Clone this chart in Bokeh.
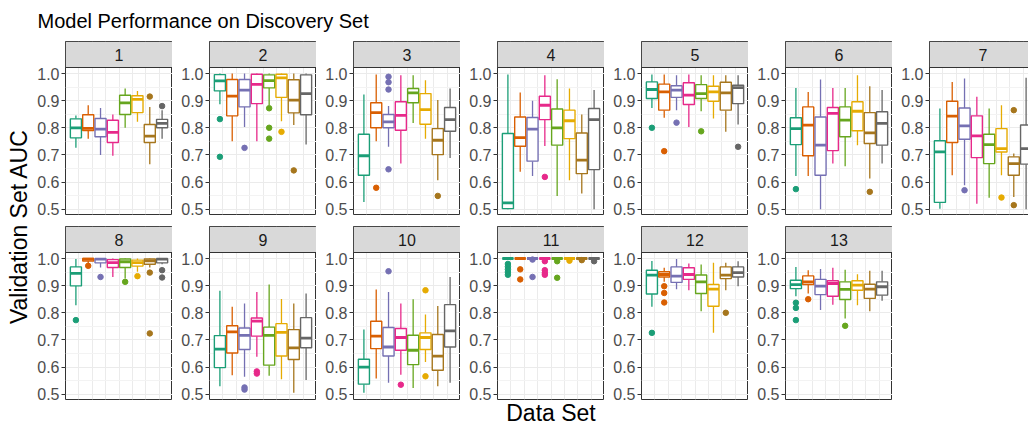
import math
from bokeh.plotting import figure
from bokeh.layouts import row, column
from bokeh.models import (ColumnDataSource, FixedTicker, PrintfTickFormatter,
                          BoxAnnotation, Label, Range1d)
from bokeh.embed import file_html
from bokeh.resources import INLINE

# ---------------- data ----------------
panel_names = [str(i) for i in range(1, 14)]
methods = ["1", "2", "3", "4", "5", "6", "7", "8"]
colors = ["#1B9E77", "#D95F02", "#7570B3", "#E7298A",
          "#66A61E", "#E6AB02", "#A6761D", "#666666"]

lower = [
    [0.726, 0.760, 0.700, 0.697, 0.800, 0.822, 0.666, 0.760],
    [0.887, 0.750, 0.803, 0.750, 0.883, 0.824, 0.810, 0.738],
    [0.527, 0.750, 0.730, 0.668, 0.818, 0.760, 0.607, 0.689],
    [0.500, 0.638, 0.622, 0.733, 0.549, 0.607, 0.558, 0.500],
    [0.873, 0.837, 0.865, 0.803, 0.861, 0.834, 0.785, 0.812],
    [0.622, 0.622, 0.500, 0.668, 0.658, 0.736, 0.613, 0.668],
    [0.502, 0.625, 0.588, 0.520, 0.542, 0.625, 0.545, 0.500],
    [0.828, 0.979, 0.967, 0.932, 0.926, 0.951, 0.967, 0.979],
    [0.529, 0.570, 0.564, 0.638, 0.568, 0.555, 0.505, 0.552],
    [0.505, 0.558, 0.542, 0.572, 0.523, 0.619, 0.529, 0.542],
    [1.000, 1.000, 1.000, 1.000, 1.000, 1.000, 1.000, 1.000],
    [0.822, 0.914, 0.887, 0.883, 0.806, 0.726, 0.883, 0.898],
    [0.861, 0.871, 0.810, 0.830, 0.779, 0.828, 0.806, 0.844],
]
q1 = [
    [0.763, 0.790, 0.767, 0.746, 0.849, 0.856, 0.746, 0.800],
    [0.936, 0.844, 0.877, 0.889, 0.947, 0.912, 0.855, 0.848],
    [0.625, 0.800, 0.800, 0.791, 0.892, 0.813, 0.701, 0.787],
    [0.502, 0.732, 0.677, 0.830, 0.736, 0.760, 0.631, 0.646],
    [0.908, 0.865, 0.912, 0.886, 0.908, 0.898, 0.865, 0.889],
    [0.738, 0.697, 0.625, 0.716, 0.767, 0.789, 0.742, 0.736],
    [0.525, 0.746, 0.758, 0.690, 0.668, 0.711, 0.625, 0.666],
    [0.899, 0.991, 0.984, 0.967, 0.967, 0.972, 0.979, 0.984],
    [0.598, 0.652, 0.665, 0.714, 0.607, 0.641, 0.628, 0.671],
    [0.537, 0.668, 0.641, 0.662, 0.609, 0.665, 0.588, 0.674],
    [1.000, 1.000, 1.000, 1.000, 1.000, 1.000, 1.000, 1.000],
    [0.869, 0.932, 0.912, 0.923, 0.871, 0.824, 0.926, 0.932],
    [0.889, 0.904, 0.867, 0.861, 0.849, 0.883, 0.853, 0.865],
]
median = [
    [0.800, 0.798, 0.795, 0.783, 0.892, 0.905, 0.769, 0.816],
    [0.973, 0.917, 0.939, 0.960, 0.974, 0.984, 0.902, 0.926],
    [0.697, 0.856, 0.822, 0.846, 0.929, 0.867, 0.754, 0.830],
    [0.523, 0.764, 0.795, 0.883, 0.800, 0.826, 0.681, 0.830],
    [0.941, 0.932, 0.939, 0.920, 0.926, 0.932, 0.929, 0.948],
    [0.797, 0.810, 0.736, 0.853, 0.828, 0.861, 0.781, 0.816],
    [0.711, 0.843, 0.807, 0.770, 0.738, 0.723, 0.668, 0.723],
    [0.945, 0.998, 0.998, 0.985, 0.988, 0.985, 0.991, 0.998],
    [0.666, 0.730, 0.717, 0.769, 0.717, 0.728, 0.671, 0.707],
    [0.600, 0.714, 0.674, 0.709, 0.662, 0.709, 0.640, 0.733],
    [1.000, 1.000, 1.000, 1.000, 1.000, 1.000, 1.000, 1.000],
    [0.939, 0.941, 0.935, 0.941, 0.914, 0.887, 0.939, 0.948],
    [0.904, 0.914, 0.898, 0.908, 0.886, 0.902, 0.887, 0.896],
]
q3 = [
    [0.833, 0.848, 0.834, 0.828, 0.920, 0.918, 0.812, 0.831],
    [0.996, 0.978, 0.978, 0.997, 0.995, 0.997, 0.977, 0.995],
    [0.776, 0.892, 0.849, 0.896, 0.945, 0.926, 0.797, 0.875],
    [0.779, 0.840, 0.838, 0.916, 0.869, 0.865, 0.781, 0.871],
    [0.969, 0.961, 0.955, 0.966, 0.959, 0.953, 0.968, 0.957],
    [0.837, 0.877, 0.840, 0.875, 0.877, 0.896, 0.856, 0.859],
    [0.752, 0.898, 0.873, 0.844, 0.776, 0.797, 0.693, 0.810],
    [0.969, 1.000, 0.999, 0.996, 0.998, 0.994, 0.998, 0.999],
    [0.716, 0.752, 0.744, 0.781, 0.747, 0.760, 0.738, 0.782],
    [0.629, 0.769, 0.746, 0.742, 0.717, 0.726, 0.720, 0.830],
    [1.000, 1.000, 1.000, 1.000, 1.000, 1.000, 1.000, 1.000],
    [0.957, 0.951, 0.969, 0.966, 0.939, 0.904, 0.969, 0.969],
    [0.920, 0.936, 0.923, 0.918, 0.914, 0.918, 0.905, 0.914],
]
upper = [
    [0.845, 0.883, 0.873, 0.849, 0.945, 0.936, 0.877, 0.865],
    [1.000, 1.000, 1.000, 1.000, 1.000, 1.000, 1.000, 1.000],
    [0.923, 0.996, 0.880, 0.994, 0.994, 0.975, 0.902, 0.945],
    [0.996, 0.930, 0.900, 0.994, 0.979, 0.945, 0.849, 0.939],
    [0.996, 0.996, 0.994, 0.996, 0.994, 0.994, 0.994, 0.994],
    [0.947, 0.932, 0.978, 0.947, 0.947, 0.994, 0.953, 0.939],
    [0.871, 0.969, 0.982, 0.914, 0.871, 0.883, 0.705, 0.984],
    [0.998, 1.000, 1.000, 1.000, 1.000, 1.000, 1.000, 1.000],
    [0.881, 0.822, 0.834, 0.877, 0.904, 0.851, 0.834, 0.871],
    [0.738, 0.886, 0.877, 0.834, 0.850, 0.794, 0.825, 0.932],
    [1.000, 1.000, 1.000, 1.000, 1.000, 1.000, 1.000, 1.000],
    [0.991, 0.966, 0.998, 0.982, 0.978, 0.984, 0.984, 0.990],
    [0.969, 0.957, 0.961, 0.966, 0.959, 0.942, 0.955, 0.955],
]
# outliers: (method number, value)
outliers = [
    [(7, 0.915), (8, 0.880)],
    [(1, 0.832), (1, 0.693), (3, 0.726), (5, 0.872), (5, 0.800), (5, 0.760),
     (6, 0.785), (7, 0.643)],
    [(2, 0.579), (3, 0.988), (3, 0.968), (3, 0.941), (3, 0.647), (7, 0.549)],
    [(4, 0.619)],
    [(1, 0.800), (2, 0.714), (3, 0.819), (5, 0.787), (8, 0.730)],
    [(1, 0.574), (7, 0.564)],
    [(3, 0.570), (6, 0.543), (7, 0.865), (7, 0.515)],
    [(1, 0.773), (2, 0.973), (3, 0.932), (5, 0.914), (6, 0.935), (7, 0.948),
     (7, 0.724), (8, 0.957), (8, 0.930)],
    [(3, 0.525), (3, 0.517), (4, 0.584), (4, 0.576)],
    [(3, 0.953), (4, 0.535), (6, 0.883), (6, 0.566)],
    [(1, 0.980), (1, 0.970), (1, 0.960), (1, 0.950), (1, 0.940), (2, 0.960),
     (2, 0.923), (3, 0.996), (3, 0.932), (4, 0.990), (4, 0.957), (4, 0.947),
     (4, 0.940), (5, 0.990), (5, 0.929), (6, 0.992), (7, 0.994), (8, 0.990)],
    [(1, 0.726), (2, 0.898), (2, 0.873), (2, 0.838), (7, 0.800)],
    [(1, 0.837), (1, 0.818), (1, 0.773), (2, 0.850), (5, 0.752)],
]
y_ticks = [0.5, 0.6, 0.7, 0.8, 0.9, 1.0]
y_minor = [0.55, 0.65, 0.75, 0.85, 0.95]
title_text = "Model Performance on Discovery Set"
x_title = "Data Set"
y_title = "Validation Set AUC"

# ---------------- layout constants ----------------
FONT = "Liberation Sans"
FRAME_W = 107
FRAME_H = 173
X0, X1 = 0.155, 8.845
PX_PER_X = FRAME_W / (X1 - X0)
Y0 = 0.4805
PANEL_TOP = 1.0221
PX_PER_Y = 271.4
Y1 = Y0 + FRAME_H / PX_PER_Y
BOX_W = 0.9
grid_x = [X0 + k * (X1 - X0) / 8 for k in range(1, 8)]
TOTAL_W = 1027
XLAB_PANEL = 10  # the x-axis title sits under this panel (centre column)


def make_panel(idx, first_col, frame_w, row_idx):
    x_end = X0 + frame_w / PX_PER_X
    has_xlab = idx == XLAB_PANEL
    p = figure(frame_width=frame_w, frame_height=FRAME_H,
               x_range=Range1d(X0, x_end), y_range=Range1d(Y0, Y1),
               output_backend="svg", toolbar_location=None,
               x_axis_location="below" if has_xlab else None,
               title_location=None,
               min_border_left=29 if first_col else 37, min_border_right=0,
               min_border_top=3, min_border_bottom=9 if row_idx == 0 else 5,
               background_fill_color="white", border_fill_color="white")
    p.outline_line_color = "#333333"
    p.outline_line_width = 1

    p.xgrid.ticker = FixedTicker(ticks=grid_x)
    p.xgrid.grid_line_color = "#EBEBEB"
    p.xgrid.grid_line_width = 1

    if has_xlab:
        xax = p.xaxis[0]
        xax.ticker = FixedTicker(ticks=[])
        xax.axis_line_color = None
        xax.major_tick_line_color = None
        xax.minor_tick_line_color = None
        xax.axis_label = x_title
        xax.axis_label_text_font = FONT
        xax.axis_label_text_font_size = "23px"
        xax.axis_label_text_font_style = "normal"
        xax.axis_label_text_color = "black"
        xax.axis_label_standoff = 0

    yax = p.yaxis[0]
    yax.ticker = FixedTicker(ticks=y_ticks, minor_ticks=y_minor)
    yax.formatter = PrintfTickFormatter(format="%.1f")
    yax.axis_line_color = None
    yax.major_tick_line_color = "#333333"
    yax.major_tick_out = 4
    yax.major_tick_in = 0
    yax.minor_tick_line_color = None
    yax.major_label_text_font = FONT
    yax.major_label_text_font_size = "16px"
    yax.major_label_text_color = "#4D4D4D"
    yax.major_label_standoff = 2
    p.ygrid.grid_line_color = "#EBEBEB"
    p.ygrid.grid_line_width = 1
    p.ygrid.minor_grid_line_color = "#F3F3F3"
    p.ygrid.minor_grid_line_width = 1

    xs = [i + 1 for i in range(len(methods))]
    src = ColumnDataSource(dict(
        x=xs,
        left=[x - BOX_W / 2 for x in xs],
        right=[x + BOX_W / 2 for x in xs],
        lower=lower[idx], q1=q1[idx], med=median[idx], q3=q3[idx],
        upper=upper[idx], color=colors))
    p.segment("x", "q3", "x", "upper", line_color="color", line_width=1.3,
              source=src)
    p.segment("x", "lower", "x", "q1", line_color="color", line_width=1.3,
              source=src)
    p.vbar(x="x", width=BOX_W, bottom="q1", top="q3", fill_color="white",
           line_color="color", line_width=1.4, source=src)
    p.segment("left", "med", "right", "med", line_color="color",
              line_width=2.8, source=src)

    ox = [m for m, v in outliers[idx]]
    oy = [v for m, v in outliers[idx]]
    oc = [colors[m - 1] for m, v in outliers[idx]]
    p.scatter(ox, oy, size=5.5, fill_color=oc, line_color=oc)

    strip = BoxAnnotation(bottom=PANEL_TOP, fill_color="#D9D9D9",
                          fill_alpha=1.0, line_color="#333333",
                          line_width=1, line_alpha=1.0)
    p.add_layout(strip)
    p.add_layout(Label(x=(X0 + X1) / 2, y=(PANEL_TOP + Y1) / 2,
                       text=panel_names[idx], text_align="center",
                       text_baseline="middle", text_font=FONT,
                       text_font_size="16px", text_color="#1A1A1A"))
    return p


row1 = []
for c in range(7):
    fw = FRAME_W if c < 6 else 100
    row1.append(make_panel(c, c == 0, fw, 0))
row2 = []
for c in range(6):
    row2.append(make_panel(7 + c, c == 0, FRAME_W, 1))


def blank(w, h):
    f = figure(width=w, height=h, x_range=Range1d(0, w), y_range=Range1d(0, h),
               output_backend="svg", toolbar_location=None,
               x_axis_location=None, y_axis_location=None, title_location=None,
               min_border=0, outline_line_color=None)
    f.xgrid.visible = False
    f.ygrid.visible = False
    return f


title_fig = blank(TOTAL_W, 38)
title_fig.add_layout(Label(x=37, y=18, text=title_text,
                           text_font=FONT, text_font_size="20px",
                           text_color="black", text_baseline="middle"))

ylab_fig = blank(34, 366)
ylab_fig.add_layout(Label(x=18, y=178, text=y_title,
                          angle=math.pi / 2, text_align="center",
                          text_baseline="middle", text_font=FONT,
                          text_font_size="23px", text_color="black"))

layout = column(title_fig,
                row(ylab_fig, column(row(*row1), row(*row2))))

open("out.html", "w").write(file_html(layout, INLINE))
